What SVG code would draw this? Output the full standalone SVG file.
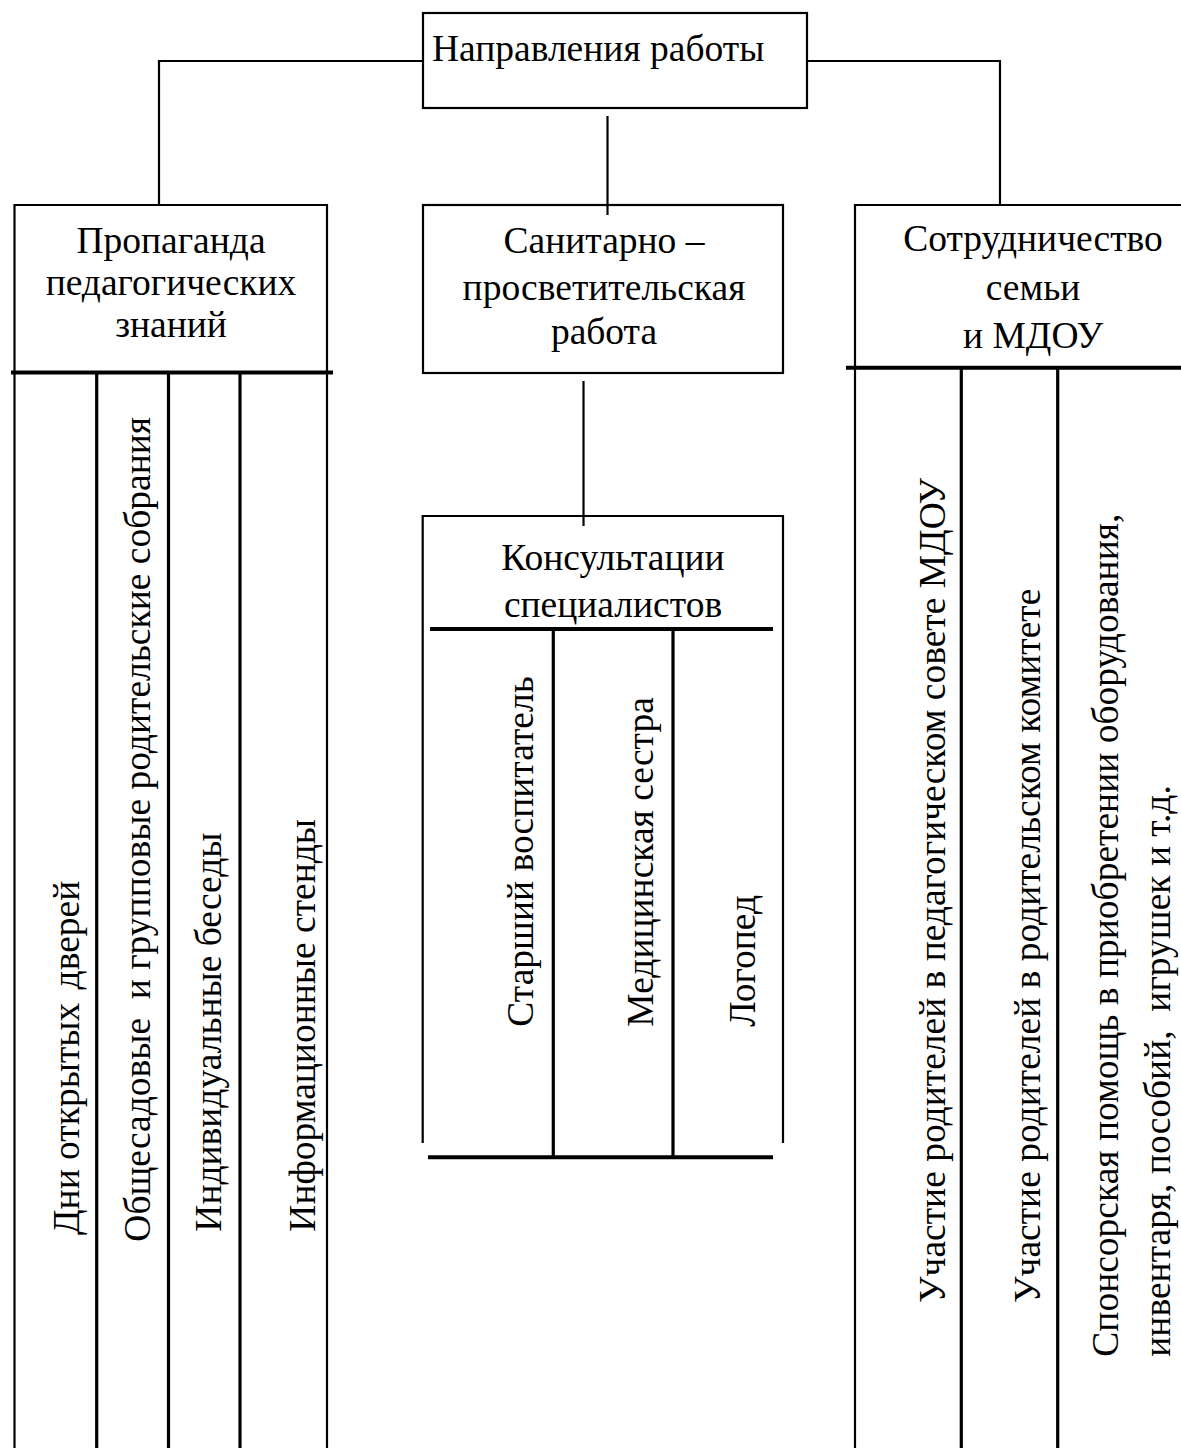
<svg xmlns="http://www.w3.org/2000/svg" width="1181" height="1448" viewBox="0 0 1181 1448">
<style>
text{font-family:"Liberation Serif","Times New Roman",serif;font-size:37.5px;fill:#000;white-space:pre}
.c{text-anchor:middle}
.s{text-anchor:start}
.thin{stroke:#000;stroke-width:2.2;fill:none}
.thick{stroke:#000;stroke-width:4;fill:none}
.col{stroke:#000;stroke-width:3.2;fill:none}
</style>
<rect width="1181" height="1448" fill="#fff"/>
<g id="connectors">
<polyline class="thin" points="423,61 159,61 159,205"/>
<polyline class="thin" points="807,61 1000,61 1000,205"/>
<line class="thin" x1="607.5" y1="116" x2="607.5" y2="215"/>
<line class="thin" x1="583.5" y1="381" x2="583.5" y2="526"/>
</g>
<g id="node-top">
<rect class="thin" x="423" y="13" width="384" height="95"/>
<text class="s" x="432" y="61">Направления работы</text>
</g>
<g id="node-left">
<polyline class="thin" points="14.5,372 14.5,205 327,205 327,372"/>
<line class="thick" x1="11" y1="372.5" x2="333" y2="372.5"/>
<text class="c" x="171" y="253">Пропаганда</text>
<text class="c" x="171" y="295">педагогических</text>
<text class="c" x="171" y="337">знаний</text>
<line class="thin" x1="14.5" y1="372" x2="14.5" y2="1448"/>
<line class="col" x1="96.7" y1="372" x2="96.7" y2="1448"/>
<line class="col" x1="168.5" y1="372" x2="168.5" y2="1448"/>
<line class="col" x1="240" y1="372" x2="240" y2="1448"/>
<line class="thin" x1="327" y1="372" x2="327" y2="1448"/>
<text class="s" transform="translate(79,1235) rotate(-90)">Дни открытых <tspan dx="4">дверей</tspan></text>
<text class="s" xml:space="preserve" transform="translate(150,1241.7) rotate(-90)">Общесадовые  и групповые родительские собрания</text>
<text class="s" transform="translate(221,1231.7) rotate(-90)">Индивидуальные беседы</text>
<text class="s" transform="translate(315,1231.7) rotate(-90)">Информационные стенды</text>
</g>
<g id="node-middle">
<rect class="thin" x="423" y="205" width="360" height="168"/>
<text class="c" x="604" y="253">Санитарно –</text>
<text class="c" x="604" y="300">просветительская</text>
<text class="c" x="604" y="344">работа</text>
</g>
<g id="node-consult">
<polyline class="thin" points="422.7,1143 422.7,516 783,516 783,1143"/>
<text class="c" x="613" y="570">Консультации</text>
<text class="c" x="613" y="617">специалистов</text>
<line class="thick" x1="430" y1="629" x2="773" y2="629"/>
<line class="col" x1="553.3" y1="629" x2="553.3" y2="1157"/>
<line class="col" x1="673" y1="629" x2="673" y2="1157"/>
<line class="thick" x1="428" y1="1157.3" x2="773" y2="1157.3"/>
<text class="s" transform="translate(533.3,1026.7) rotate(-90)">Старший воспитатель</text>
<text class="s" transform="translate(653.3,1026.7) rotate(-90)">Медицинская сестра</text>
<text class="s" transform="translate(755,1026.7) rotate(-90)">Логопед</text>
</g>
<g id="node-right">
<polyline class="thin" points="855,368 855,205 1181,205"/>
<line class="thick" x1="846" y1="367.7" x2="1181" y2="367.7"/>
<text class="c" x="1033" y="251">Сотрудничество</text>
<text class="c" x="1033" y="300">семьи</text>
<text class="c" x="1033" y="348">и МДОУ</text>
<line class="thin" x1="855" y1="368" x2="855" y2="1448"/>
<line class="col" x1="961.3" y1="368" x2="961.3" y2="1448"/>
<line class="col" x1="1057.7" y1="368" x2="1057.7" y2="1448"/>
<text class="s" transform="translate(945,1303) rotate(-90)">Участие родителей в педагогическом совете МДОУ</text>
<text class="s" transform="translate(1040,1303) rotate(-90)">Участие родителей в родительском комитете</text>
<text class="s" transform="translate(1118.3,1356.7) rotate(-90)">Спонсорская помощь в приобретении оборудования,</text>
<text class="s" xml:space="preserve" transform="translate(1170,1356.7) rotate(-90)">инвентаря, пособий,  игрушек и т.д.</text>
</g>
</svg>
